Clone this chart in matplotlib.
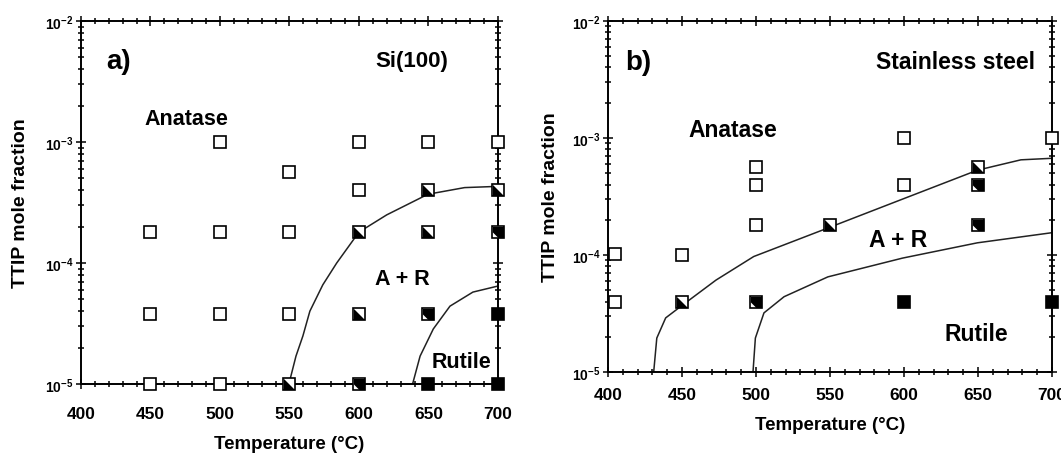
import numpy as np
import matplotlib.pyplot as plt
from matplotlib.ticker import MultipleLocator, LogLocator, NullFormatter, FixedLocator

plt.rcParams['font.family'] = ['Liberation Sans', 'DejaVu Sans']
plt.rcParams['font.weight'] = 'bold'
plt.rcParams['axes.labelweight'] = 'bold'
plt.rcParams['mathtext.fontset'] = 'custom'
plt.rcParams['mathtext.rm'] = 'Liberation Sans:bold'
plt.rcParams['mathtext.default'] = 'rm'

# panel a: Si(100) substrate
a_open_T = [450, 500, 450, 500, 550, 450, 500, 550, 550, 500, 600, 650, 700, 600]
a_open_x = [1e-5, 1e-5, 3.8e-5, 3.8e-5, 3.8e-5, 1.8e-4, 1.8e-4, 1.8e-4, 5.7e-4, 1e-3, 1e-3, 1e-3, 1e-3, 4e-4]
a_half_T = [550, 600, 600, 650, 700, 650]
a_half_x = [1e-5, 3.8e-5, 1.8e-4, 4e-4, 4e-4, 1.8e-4]
a_most_T = [600, 650, 700]
a_most_x = [1e-5, 3.8e-5, 1.8e-4]
a_full_T = [650, 700, 700]
a_full_x = [1e-5, 1e-5, 3.8e-5]

# phase boundaries
a_b1_T = [549.6, 554.7, 559.7, 564.7, 574, 584, 600, 620, 649.6, 676, 700]
a_b1_x = [1e-5, 1.7e-5, 2.5e-5, 4e-5, 6.6e-5, 1e-4, 1.8e-4, 2.5e-4, 3.7e-4, 4.2e-4, 4.3e-4]
a_b2_T = [638.6, 644, 653.5, 665.5, 682, 700]
a_b2_x = [1e-5, 1.7e-5, 2.85e-5, 4.4e-5, 5.75e-5, 6.45e-5]

# panel b: stainless steel substrate
b_open_T = [405, 405, 450, 500, 500, 500, 600, 600, 700]
b_open_x = [1.02e-4, 4e-5, 1e-4, 5.6e-4, 4e-4, 1.8e-4, 1e-3, 4e-4, 1e-3]
b_half_T = [450, 550, 650]
b_half_x = [4e-5, 1.8e-4, 5.6e-4]
b_most_T = [500, 650, 650]
b_most_x = [4e-5, 4e-4, 1.8e-4]
b_full_T = [600, 700]
b_full_x = [4e-5, 4e-5]

b_b1_T = [430.9, 433, 439, 450, 473, 498.5, 548.6, 599, 649.6, 679, 700]
b_b1_x = [1e-5, 1.95e-5, 2.9e-5, 3.7e-5, 6.1e-5, 9.7e-5, 1.7e-4, 3.0e-4, 5.3e-4, 6.5e-4, 6.7e-4]
b_b2_T = [498, 499.6, 505.4, 519, 548.6, 599, 649.6, 700]
b_b2_x = [1e-5, 1.95e-5, 3.2e-5, 4.4e-5, 6.5e-5, 9.4e-5, 1.27e-4, 1.55e-4]

half_mk = [(-1, -1), (1, -1), (-1, 1), (-1, -1)]
most_mk = [(-1, 0), (0, -1), (1, -1), (1, 1), (-1, 1), (-1, 0)]
MS = 8


def points(ax, T, x, kind):
    face = 'black' if kind == 'full' else 'white'
    ax.plot(T, x, 's', ms=MS, mfc=face, mec='black', mew=1.2, ls='none', clip_on=False, zorder=5)
    if kind in ('half', 'most'):
        mk = half_mk if kind == 'half' else most_mk
        ax.plot(T, x, marker=mk, ms=MS, mfc='black', mec='none', ls='none', clip_on=False, zorder=6)


def setup(ax, xpad):
    ax.set_xlim(400, 700)
    ax.set_yscale('log')
    ax.set_ylim(1e-5, 1e-2)
    ax.xaxis.set_major_locator(MultipleLocator(50))
    ax.xaxis.set_minor_locator(MultipleLocator(10))
    ax.yaxis.set_major_locator(FixedLocator([1e-5, 1e-4, 1e-3, 1e-2]))
    ax.yaxis.set_minor_locator(LogLocator(base=10, subs=np.arange(2, 10)))
    ax.yaxis.set_minor_formatter(NullFormatter())
    ax.set_yticklabels([r'$10^{-5}$', r'$10^{-4}$', r'$10^{-3}$', r'$10^{-2}$'], fontsize=10)
    ax.tick_params(which='both', direction='inout', top=True, right=True, width=1.1)
    ax.tick_params(which='major', length=7)
    ax.tick_params(which='minor', length=4)
    ax.tick_params(axis='x', labelsize=12.5, pad=xpad)
    ax.tick_params(axis='y', pad=2)
    for s in ax.spines.values():
        s.set_linewidth(1.4)
    ax.set_xlabel('Temperature (°C)', fontsize=13.5)
    ax.set_ylabel('TTIP mole fraction', fontsize=14)


fig = plt.figure(figsize=(10.61, 4.56), dpi=100)
axa = fig.add_axes([0.0763, 0.1557, 0.393, 0.796])
axb = fig.add_axes([0.573, 0.182, 0.4185, 0.770])

setup(axa, 12)
setup(axb, 7)
axa.xaxis.set_label_coords(0.5, -0.14)
axa.yaxis.set_label_coords(-0.125, 0.5)
axb.xaxis.set_label_coords(0.5, -0.125)
axb.yaxis.set_label_coords(-0.11, 0.5)

axa.plot(a_b1_T, a_b1_x, color='#222222', lw=1.1)
axa.plot(a_b2_T, a_b2_x, color='#222222', lw=1.1)
points(axa, a_open_T, a_open_x, 'open')
points(axa, a_half_T, a_half_x, 'half')
points(axa, a_most_T, a_most_x, 'most')
points(axa, a_full_T, a_full_x, 'full')
axa.text(0.06, 0.89, 'a)', transform=axa.transAxes, fontsize=20, va='center')
axa.text(0.705, 0.89, 'Si(100)', transform=axa.transAxes, fontsize=16, va='center')
axa.text(0.153, 0.731, 'Anatase', transform=axa.transAxes, fontsize=15.5, va='center')
axa.text(0.705, 0.292, 'A + R', transform=axa.transAxes, fontsize=15.5, va='center')
axa.text(0.84, 0.063, 'Rutile', transform=axa.transAxes, fontsize=15.5, va='center')

axb.plot(b_b1_T, b_b1_x, color='#222222', lw=1.1)
axb.plot(b_b2_T, b_b2_x, color='#222222', lw=1.1)
points(axb, b_open_T, b_open_x, 'open')
points(axb, b_half_T, b_half_x, 'half')
points(axb, b_most_T, b_most_x, 'most')
points(axb, b_full_T, b_full_x, 'full')
axb.text(0.038, 0.883, 'b)', transform=axb.transAxes, fontsize=20, va='center')
axb.text(0.604, 0.883, 'Stainless steel', transform=axb.transAxes, fontsize=16.5, va='center')
axb.text(0.182, 0.69, 'Anatase', transform=axb.transAxes, fontsize=16.5, va='center')
axb.text(0.588, 0.377, 'A + R', transform=axb.transAxes, fontsize=16.5, va='center')
axb.text(0.759, 0.111, 'Rutile', transform=axb.transAxes, fontsize=16.5, va='center')

fig.savefig('out.png', dpi=100)
